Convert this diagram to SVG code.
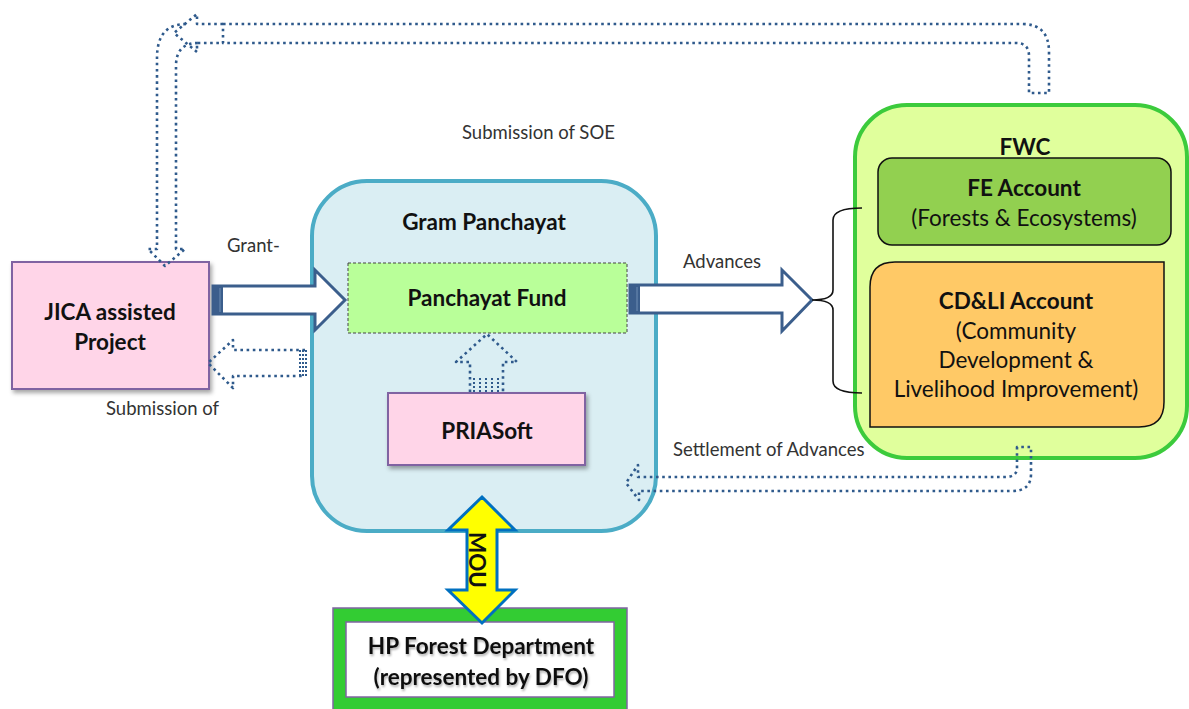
<svg xmlns="http://www.w3.org/2000/svg" width="1189" height="709" viewBox="0 0 1189 709">
  <defs>
    <filter id="shadow" x="-10%" y="-10%" width="130%" height="130%">
      <feDropShadow dx="2" dy="3" stdDeviation="2" flood-color="#000" flood-opacity="0.35"/>
    </filter>
    <filter id="textshadow" x="-5%" y="-20%" width="110%" height="150%">
      <feDropShadow dx="1" dy="2" stdDeviation="1.2" flood-color="#000" flood-opacity="0.3"/>
    </filter>
    <style>
      .title { font-family: Lato, "Liberation Sans", sans-serif; font-weight: bold; font-size: 22.5px; fill: #111; text-anchor: middle; }
      .body { font-family: Lato, "Liberation Sans", sans-serif; font-size: 22.5px; fill: #111; text-anchor: middle; }
      .label { font-family: Lato, "Liberation Sans", sans-serif; font-size: 18.5px; fill: #333; }
      .dotted { fill: none; stroke: #2F5A8C; stroke-width: 2.6; stroke-dasharray: 2.6 3.6; stroke-linejoin: round; }
      .hollow { fill: #fff; stroke: #3B5E8C; stroke-width: 3; stroke-linejoin: miter; }
      .pink { fill: #FFD5E8; stroke: #8064A2; stroke-width: 2; }
    </style>
  </defs>

  <rect width="1189" height="709" fill="#fff"/>

  <!-- Gram Panchayat -->
  <g id="gram-panchayat">
    <rect x="312" y="181" width="344" height="350" rx="55" fill="#DAEEF3" stroke="#4BACC6" stroke-width="4"/>
    <text class="title" x="484" y="230">Gram Panchayat</text>
  </g>

  <!-- Panchayat Fund -->
  <g id="panchayat-fund">
    <rect x="348" y="263" width="279" height="70" fill="#B9FF99" stroke="#444" stroke-width="1" stroke-dasharray="3 2"/>
    <text class="title" x="487" y="306">Panchayat Fund</text>
  </g>

  <!-- PRIASoft -->
  <g id="priasoft">
    <rect class="pink" x="388" y="393" width="197" height="72" filter="url(#shadow)"/>
    <text class="title" x="487" y="439">PRIASoft</text>
  </g>

  <!-- JICA assisted Project -->
  <g id="jica">
    <rect class="pink" x="12" y="262" width="197" height="127" filter="url(#shadow)"/>
    <text class="title" x="110" y="320">JICA assisted</text>
    <text class="title" x="110" y="350">Project</text>
  </g>

  <!-- FWC and its accounts -->
  <g id="fwc">
    <rect x="855" y="105" width="332" height="353" rx="52" fill="#E0FF9C" stroke="#3CCB3C" stroke-width="4"/>
    <text class="title" x="1025" y="155">FWC</text>
  </g>
  <g id="fe-account">
    <rect x="878" y="158" width="293" height="87" rx="14" fill="#92D050" stroke="#111" stroke-width="1.5"/>
    <text class="title" x="1024" y="196">FE Account</text>
    <text class="body" x="1024" y="226">(Forests &amp; Ecosystems)</text>
  </g>
  <g id="cdli-account">
    <path d="M895,262 H1164 V402 Q1164,427 1139,427 H870 V287 Q870,262 895,262 Z" fill="#FFC966" stroke="#111" stroke-width="1.5"/>
    <text class="title" x="1016" y="309">CD&amp;LI Account</text>
    <text class="body" x="1016" y="339">(Community</text>
    <text class="body" x="1016" y="368">Development &amp;</text>
    <text class="body" x="1016" y="397">Livelihood Improvement)</text>
  </g>

  <!-- HP Forest Department -->
  <g id="hp-forest">
    <rect x="333" y="608" width="294" height="110" fill="#33CC33" stroke="#8064A2" stroke-width="1.5"/>
    <rect x="346" y="622" width="268" height="75" fill="#fff" stroke="#8064A2" stroke-width="1.5"/>
    <text class="title" x="481" y="654" filter="url(#textshadow)">HP Forest Department</text>
    <text class="title" x="481" y="685" filter="url(#textshadow)">(represented by DFO)</text>
  </g>

  <!-- Connectors -->
  <g id="connectors">
    <!-- Grant- : JICA to Panchayat Fund -->
    <path class="hollow" d="M213,286 H315 V270 L345,300 L315,330 V314 H213 Z"/>
    <rect x="213" y="286" width="10" height="28" fill="#3B5E8C"/>
    <line x1="220" y1="288" x2="220" y2="312" stroke="#6F8DB3" stroke-width="1"/>

    <!-- Advances : Panchayat Fund to FWC -->
    <path class="hollow" d="M630,285 H782 V270 L812,300 L782,331 V313 H630 Z"/>
    <rect x="630" y="285" width="10" height="28" fill="#3B5E8C"/>
    <line x1="637" y1="287" x2="637" y2="311" stroke="#6F8DB3" stroke-width="1"/>

    <!-- brace grouping the FWC accounts -->
    <path d="M862,208 Q833,208 833,220 V290 Q833,300 812,300 Q833,300 833,310 V381 Q833,393 862,393" fill="none" stroke="#111" stroke-width="1.6"/>

    <!-- Submission of : Gram Panchayat back to JICA -->
    <path class="dotted" d="M305,350 H233 V340 L208,363 L233,388 V376 H305"/>
    <g stroke="#2F5A8C" stroke-width="2" stroke-dasharray="2 2">
      <line x1="300" y1="350" x2="300" y2="376"/>
      <line x1="303" y1="350" x2="303" y2="376"/>
      <line x1="306" y1="350" x2="306" y2="376"/>
    </g>

    <!-- PRIASoft up to Panchayat Fund -->
    <path class="dotted" d="M470,392 V362 H456 L487,334 L517,362 H503 V392"/>
    <g stroke="#2F5A8C" stroke-width="2" stroke-dasharray="2 2">
      <line x1="474" y1="378" x2="474" y2="392"/>
      <line x1="480" y1="378" x2="480" y2="392"/>
      <line x1="486" y1="378" x2="486" y2="392"/>
      <line x1="492" y1="378" x2="492" y2="392"/>
      <line x1="498" y1="378" x2="498" y2="392"/>
    </g>

    <!-- Submission of SOE : FWC over the top to JICA -->
    <path class="dotted" d="M223,24 H1022 Q1049,24 1049,52 V93 H1029 V56 Q1029,43 1016,43 H223 Z"/>
    <path class="dotted" d="M223,24 H197 V14 L174,33 L197,52 V43 H223"/>
    <path class="dotted" d="M186,24 Q157,24 157,58 V249 H148 L165,266 L185,249 H176 V66 Q176,43 198,43"/>

    <!-- Settlement of Advances : FWC back to Gram Panchayat -->
    <path class="dotted" d="M1017,447 V468 Q1017,477 1005,477 H638 V465 L626,483 L639,500 V491 H1012 Q1031,491 1031,474 V447 Z"/>

    <!-- MOU : Gram Panchayat and HP Forest Department -->
    <path d="M482,497 L515,530 H497 V590 H515 L482,623 L448,590 H467 V530 H448 Z" fill="#FFFF00" stroke="#0070C0" stroke-width="3" stroke-linejoin="miter"/>
    <text class="title" x="0" y="0" font-size="20" transform="translate(475,560) rotate(90)" dominant-baseline="middle">MOU</text>
  </g>

  <!-- Labels -->
  <g id="labels">
    <text class="label" x="462" y="139">Submission of SOE</text>
    <text class="label" x="227" y="252">Grant-</text>
    <text class="label" x="106" y="415">Submission of</text>
    <text class="label" x="683" y="268">Advances</text>
    <text class="label" x="673" y="456">Settlement  of Advances</text>
  </g>
</svg>
